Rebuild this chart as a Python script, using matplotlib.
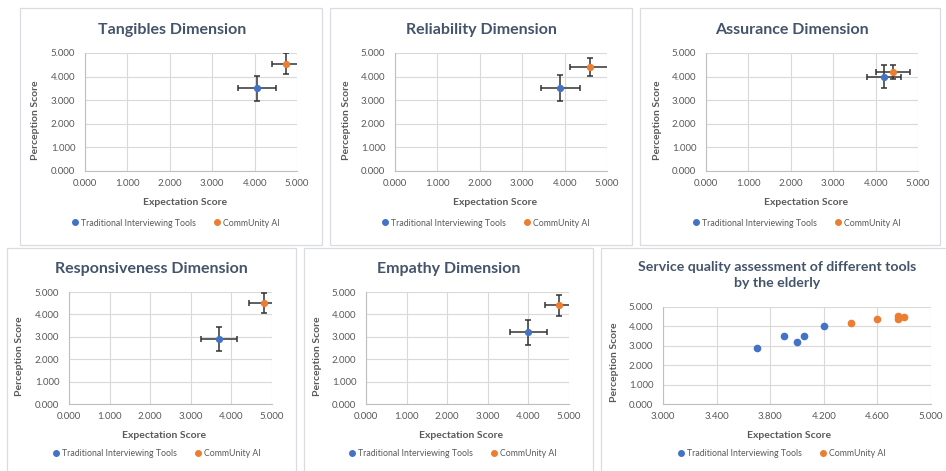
import matplotlib
matplotlib.use("Agg")
import matplotlib.pyplot as plt
from matplotlib.patches import Rectangle
import numpy as np

plt.rcParams['font.family'] = ['Lato', 'DejaVu Sans']

# ---- data ----
dims = ['Tangibles', 'Reliability', 'Assurance', 'Responsiveness', 'Empathy']
trad_exp = [4.05, 3.90, 4.20, 3.70, 4.00]
trad_per = [3.50, 3.50, 4.00, 2.90, 3.20]
trad_exp_err = [0.45, 0.46, 0.40, 0.45, 0.45]
trad_per_err = [0.53, 0.55, 0.50, 0.55, 0.55]
ai_exp = [4.75, 4.60, 4.40, 4.80, 4.75]
ai_per = [4.55, 4.40, 4.20, 4.50, 4.40]
ai_exp_err = [0.34, 0.47, 0.40, 0.37, 0.35]
ai_per_err = [0.45, 0.37, 0.31, 0.44, 0.45]

series_names = ['Traditional Interviewing Tools', 'CommUnity AI']
c_blue = '#4472C4'
c_orange = '#ED7D31'
c_text = '#595959'
c_title = '#44546A'
c_grid = '#D9D9D9'

W, H = 946, 471
fig = plt.figure(figsize=(W / 100, H / 100), dpi=100)


def box(x0, y0, x1, y1):
    # pixel box (top-left origin) -> figure fraction rect
    return [x0 / W, 1 - y1 / H, (x1 - x0) / W, (y1 - y0) / H]


def px(x, y):
    return x / W, 1 - y / H


# panel frames, axes boxes, title/legend centres
frames = [(20, 8, 322, 245), (330, 8, 632, 245), (640, 8, 940, 245),
          (7, 248, 296, 475), (304, 248, 593, 475), (601, 248, 950, 475)]
axboxes = [(85, 53, 297, 171), (395, 53, 607, 171), (706, 53, 918, 171),
           (69, 292, 272, 404), (366, 292, 569, 404), (663, 307, 931, 404)]
titles_xy = [(172, 29), (481, 29), (792, 29), (151, 268), (449, 268), (777, 275)]
legend_xy = [(175, 223), (485, 223), (796, 223), (156, 454), (452, 454), (781, 454)]

for fr in frames:
    x0, y0, x1, y1 = fr
    fig.patches.append(Rectangle(px(x0, y1), (x1 - x0) / W, (y1 - y0) / H,
                                 transform=fig.transFigure, fill=False,
                                 edgecolor='#D9DCE1', lw=0.9))


def style_axes(ax, xticks, yticks, bx):
    x0, y0, x1, y1 = bx
    ax.set_xticks(xticks)
    ax.set_yticks(yticks)
    ax.set_xlim(xticks[0], xticks[-1])
    ax.set_ylim(yticks[0], yticks[-1])
    ax.xaxis.set_major_formatter(matplotlib.ticker.FormatStrFormatter('%.3f'))
    ax.yaxis.set_major_formatter(matplotlib.ticker.FormatStrFormatter('%.3f'))
    ax.tick_params(length=0, labelsize=7, labelcolor=c_text)
    ax.tick_params(axis='x', pad=6)
    ax.tick_params(axis='y', pad=7)
    ax.grid(True, color=c_grid, lw=0.8)
    ax.set_axisbelow(True)
    for s in ['top', 'right']:
        ax.spines[s].set_visible(False)
    for s in ['left', 'bottom']:
        ax.spines[s].set_color('#BFBFBF')
        ax.spines[s].set_linewidth(0.8)
    ax.set_xlabel('Expectation Score', fontsize=7.5, fontweight='bold', color=c_text)
    ax.set_ylabel('Perception Score', fontsize=7.5, fontweight='bold', color=c_text)
    hgt = y1 - y0
    ax.xaxis.set_label_coords(0.47, -32 / hgt)
    ax.xaxis.label.set_va('center')
    ax.yaxis.set_label_coords(-49 / (x1 - x0), 0.43)
    ax.yaxis.label.set_va('center')


def add_legend(ax, hs, i):
    lx, ly = legend_xy[i]
    ax.legend(hs, series_names, loc='center', bbox_to_anchor=px(lx, ly),
              bbox_transform=fig.transFigure, ncol=2, frameon=False,
              fontsize=6.3, labelcolor=c_text, handletextpad=0.1,
              columnspacing=2.0, handlelength=1.0, borderpad=0)


for i, d in enumerate(dims):
    ax = fig.add_axes(box(*axboxes[i]))
    ax.errorbar(trad_exp[i], trad_per[i], xerr=trad_exp_err[i], yerr=trad_per_err[i],
                fmt='o', ms=4.2, color=c_blue, ecolor='#333333', elinewidth=1.1,
                capsize=2.5, capthick=1.1)
    ax.errorbar(ai_exp[i], ai_per[i], xerr=ai_exp_err[i], yerr=ai_per_err[i],
                fmt='o', ms=4.2, color=c_orange, ecolor='#333333', elinewidth=1.1,
                capsize=2.5, capthick=1.1)
    style_axes(ax, np.arange(0, 5.01, 1.0), np.arange(0, 5.01, 1.0), axboxes[i])
    tx, ty = titles_xy[i]
    fig.text(*px(tx, ty + 1), d + ' Dimension', ha='center', va='center',
             fontsize=11.5, fontweight='bold', color=c_title)
    hs = [plt.Line2D([], [], marker='o', ls='', ms=4, color=c_blue),
          plt.Line2D([], [], marker='o', ls='', ms=4, color=c_orange)]
    add_legend(ax, hs, i)

# summary panel
ax = fig.add_axes(box(*axboxes[5]))
ax.plot(trad_exp, trad_per, 'o', ms=4.5, color=c_blue)
ax.plot(ai_exp, ai_per, 'o', ms=4.5, color=c_orange)
style_axes(ax, np.arange(3.0, 5.01, 0.4), np.arange(0, 5.01, 1.0), axboxes[5])
tx, ty = titles_xy[5]
fig.text(*px(tx, ty), 'Service quality assessment of different tools\nby the elderly',
         ha='center', va='center', fontsize=10.2, fontweight='bold', color=c_title,
         linespacing=1.35)
hs = [plt.Line2D([], [], marker='o', ls='', ms=4, color=c_blue),
      plt.Line2D([], [], marker='o', ls='', ms=4, color=c_orange)]
add_legend(ax, hs, 5)

fig.savefig('out.png', dpi=100, facecolor='white')
